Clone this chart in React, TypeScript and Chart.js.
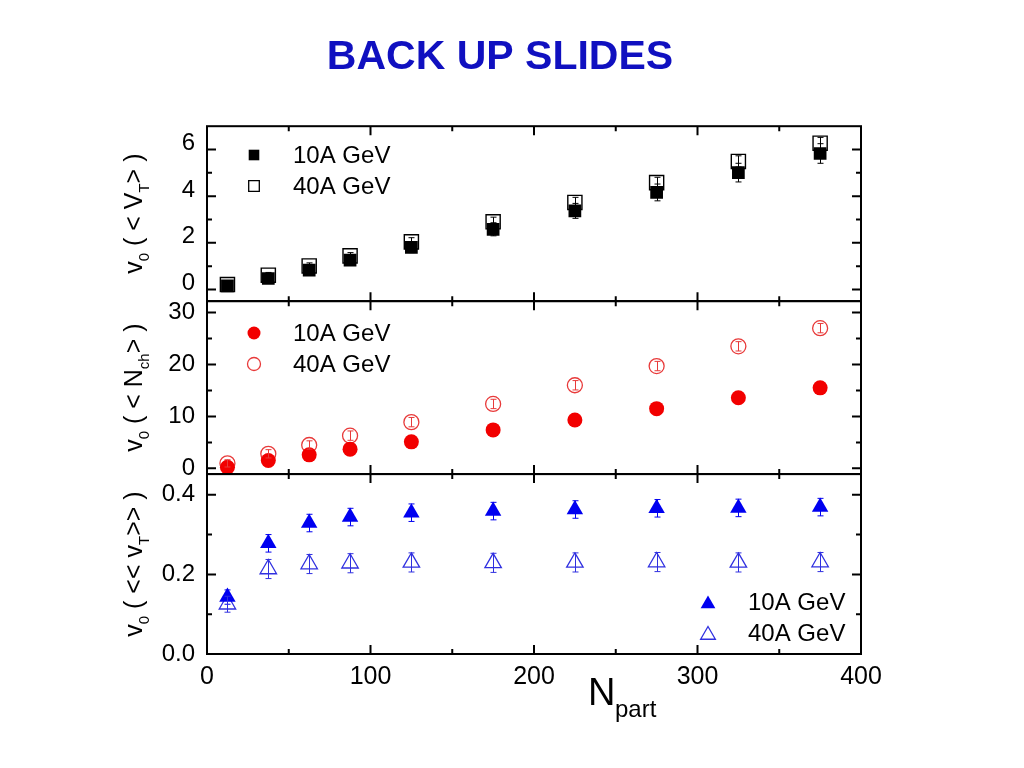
import React, { useEffect, useRef } from "react";
import { Chart, registerables } from "chart.js";

Chart.register(...registerables);

const FONT = "'Liberation Sans', Arial, Helvetica, sans-serif";

// ---- data ----
const NPART = [12.5, 37.5, 62.5, 87.5, 125, 175, 225, 275, 325, 375];

const VT_10A = [0.15, 0.47, 0.83, 1.26, 1.8, 2.58, 3.37, 4.16, 5.01, 5.83];
const VT_40A = [0.21, 0.61, 1.01, 1.44, 2.04, 2.9, 3.73, 4.58, 5.49, 6.27];
const VT_ERR_10A = [0.1, 0.12, 0.15, 0.18, 0.22, 0.28, 0.32, 0.36, 0.4, 0.42];
const VT_ERR_40A = [0.12, 0.12, 0.13, 0.14, 0.18, 0.2, 0.22, 0.23, 0.24, 0.25];

const NCH_10A = [0.2, 1.5, 2.6, 3.7, 5.1, 7.4, 9.3, 11.5, 13.6, 15.5];
const NCH_40A = [0.96, 2.8, 4.5, 6.3, 8.9, 12.4, 16.0, 19.7, 23.5, 27.0];
const NCH_ERR_10A = [0.4, 0.5, 0.5, 0.6, 0.6, 0.7, 0.7, 0.8, 0.8, 0.9];
const NCH_ERR_40A = [0.7, 0.8, 0.8, 0.9, 0.9, 0.9, 0.9, 0.9, 0.9, 0.9];

const MVT_10A = [0.143, 0.278, 0.329, 0.344, 0.355, 0.359, 0.363, 0.366, 0.367, 0.369];
const MVT_40A = [0.125, 0.2135, 0.226, 0.228, 0.23, 0.229, 0.23, 0.231, 0.23, 0.231];
const MVT_ERR_10A = [0.018, 0.022, 0.022, 0.022, 0.022, 0.022, 0.022, 0.022, 0.022, 0.022];
const MVT_ERR_40A = [0.02, 0.024, 0.024, 0.024, 0.024, 0.024, 0.024, 0.024, 0.024, 0.024];

const SERIES_LABELS = ["10A GeV", "40A GeV"];

const X_TICKS = [0, 100, 200, 300, 400];
const X_MINOR = [50, 150, 250, 350];
const VT_TICKS = [0, 2, 4, 6];
const VT_MINOR = [1, 3, 5];
const NCH_TICKS = [0, 10, 20, 30];
const NCH_MINOR = [5, 15, 25];
const MVT_TICKS = [0, 0.2, 0.4];
const MVT_MINOR = [0.1, 0.3];

const TITLE = "BACK UP SLIDES";

// rich text parts: [text, isSubscript]
const Y_TITLES: Array<Array<[string, boolean]>> = [
  [["v", false], ["0", true], [" ( < V", false], ["T", true], ["> )", false]],
  [["v", false], ["0", true], [" ( < N", false], ["ch", true], ["> )", false]],
  [["v", false], ["0", true], [" ( << v", false], ["T", true], [">> )", false]],
];

const BLACK = "#000000";
const RED = "#f20000";
const RED_OPEN = "#e83a3a";
const BLUE = "#0000f0";
const BLUE_OPEN = "#3030e0";

const pts = (xs: number[], ys: number[]) => xs.map((x, i) => ({ x, y: ys[i] }));

const ERRORS = [VT_ERR_10A, VT_ERR_40A, NCH_ERR_10A, NCH_ERR_40A, MVT_ERR_10A, MVT_ERR_40A];
const ERR_COLORS = [BLACK, BLACK, RED, RED_OPEN, BLUE, BLUE_OPEN];

const PANELS = [
  { id: "yTop", ticks: VT_TICKS, minor: VT_MINOR },
  { id: "yMid", ticks: NCH_TICKS, minor: NCH_MINOR },
  { id: "yBot", ticks: MVT_TICKS, minor: MVT_MINOR },
];

function drawRich(ctx: CanvasRenderingContext2D, parts: Array<[string, boolean]>, cx: number, cy: number, size: number, subSize: number, subOff: number) {
  ctx.save();
  ctx.translate(cx, cy);
  ctx.rotate(-Math.PI / 2);
  ctx.textBaseline = "alphabetic";
  ctx.textAlign = "left";
  let total = 0;
  const widths = parts.map(([t, sub]) => {
    ctx.font = `${sub ? subSize : size}px ${FONT}`;
    const w = ctx.measureText(t).width;
    total += w;
    return w;
  });
  let u = -total / 2;
  parts.forEach(([t, sub], i) => {
    ctx.font = `${sub ? subSize : size}px ${FONT}`;
    ctx.fillText(t, u, sub ? subOff : 0);
    u += widths[i];
  });
  ctx.restore();
}

function marker(ctx: CanvasRenderingContext2D, kind: string, x: number, y: number, r: number, color: string, filled: boolean) {
  ctx.save();
  ctx.beginPath();
  if (kind === "rect") {
    const s = r * Math.SQRT1_2;
    ctx.rect(x - s, y - s, 2 * s, 2 * s);
  } else if (kind === "circle") {
    ctx.arc(x, y, r, 0, Math.PI * 2);
  } else {
    ctx.moveTo(x, y - r);
    ctx.lineTo(x + r * Math.sin((2 * Math.PI) / 3), y - r * Math.cos((2 * Math.PI) / 3));
    ctx.lineTo(x + r * Math.sin((4 * Math.PI) / 3), y - r * Math.cos((4 * Math.PI) / 3));
    ctx.closePath();
  }
  if (filled) {
    ctx.fillStyle = color;
    ctx.fill();
  } else {
    ctx.strokeStyle = color;
    ctx.lineWidth = 1.3;
    ctx.stroke();
  }
  ctx.restore();
}

const decorPlugin = {
  id: "decor",
  afterDatasetsDraw(chart: any) {
    const ctx: CanvasRenderingContext2D = chart.ctx;
    chart.data.datasets.forEach((ds: any, i: number) => {
      const meta = chart.getDatasetMeta(i);
      const ys = chart.scales[ds.yAxisID];
      const errs = ERRORS[i];
      ctx.save();
      ctx.strokeStyle = ERR_COLORS[i];
      ctx.lineWidth = 1;
      meta.data.forEach((el: any, j: number) => {
        const v = ds.data[j].y;
        const x = Math.round(el.x) + 0.5;
        const y1 = ys.getPixelForValue(v + errs[j]);
        const y2 = ys.getPixelForValue(v - errs[j]);
        ctx.beginPath();
        ctx.moveTo(x, y1);
        ctx.lineTo(x, y2);
        ctx.moveTo(x - 3, y1);
        ctx.lineTo(x + 3, y1);
        ctx.moveTo(x - 3, y2);
        ctx.lineTo(x + 3, y2);
        ctx.stroke();
      });
      ctx.restore();
    });
  },
  afterDraw(chart: any) {
    const ctx: CanvasRenderingContext2D = chart.ctx;
    const { left, right } = chart.chartArea;
    const xs = chart.scales.x;
    ctx.save();
    ctx.strokeStyle = BLACK;
    ctx.lineWidth = 2;
    PANELS.forEach((p, pi) => {
      const s = chart.scales[p.id];
      const top = s.top;
      const bottom = s.bottom;
      ctx.strokeRect(left, top, right - left, bottom - top);
      ctx.beginPath();
      const yt = (v: number, len: number) => {
        const y = s.getPixelForValue(v);
        ctx.moveTo(left, y);
        ctx.lineTo(left + len, y);
        ctx.moveTo(right, y);
        ctx.lineTo(right - len, y);
      };
      p.ticks.forEach((v) => yt(v, 9));
      p.minor.forEach((v) => yt(v, 5));
      const xt = (v: number, len: number) => {
        const x = xs.getPixelForValue(v);
        ctx.moveTo(x, top);
        ctx.lineTo(x, top + len);
        ctx.moveTo(x, bottom);
        ctx.lineTo(x, bottom - len);
      };
      X_TICKS.forEach((v) => xt(v, 9));
      X_MINOR.forEach((v) => xt(v, 5));
      ctx.stroke();
      // y title
      ctx.fillStyle = BLACK;
      drawRich(ctx, Y_TITLES[pi], 142, (top + bottom) / 2, 25, 15, 7);
    });
    ctx.restore();

    // legends
    ctx.save();
    ctx.font = `24px ${FONT}`;
    ctx.fillStyle = BLACK;
    ctx.textBaseline = "middle";
    ctx.textAlign = "left";
    const legends = [
      { kind: "rect", color: [BLACK, BLACK], r: 7.5, mx: 254, tx: 293, y: [155, 186] },
      { kind: "circle", color: [RED, RED_OPEN], r: 6.5, mx: 254, tx: 293, y: [333, 364] },
      { kind: "triangle", color: [BLUE, BLUE_OPEN], r: 8.5, mx: 708, tx: 748, y: [602, 633] },
    ];
    legends.forEach((lg) => {
      [0, 1].forEach((k) => {
        marker(ctx, lg.kind, lg.mx, lg.y[k] + (lg.kind === "triangle" ? 2 : 0), lg.r, lg.color[k], k === 0);
        ctx.fillText(SERIES_LABELS[k], lg.tx, lg.y[k] + 1);
      });
    });
    ctx.restore();

    // x title N_part
    ctx.save();
    ctx.fillStyle = BLACK;
    ctx.textBaseline = "alphabetic";
    ctx.textAlign = "left";
    ctx.font = `38px ${FONT}`;
    ctx.fillText("N", 588, 705);
    ctx.font = `24px ${FONT}`;
    ctx.fillText("part", 615, 717);
    ctx.restore();
  },
};

export default function App() {
  const ref = useRef<HTMLCanvasElement | null>(null);
  useEffect(() => {
    if (!ref.current) return;
    const setTicks = (arr: number[]) => (axis: any) => {
      axis.ticks = arr.map((v) => ({ value: v }));
    };
    const yBase = (min: number, max: number, arr: number[], weight: number, sw: number, extra: any = {}) => ({
      type: "linear",
      position: "left",
      stack: "panels",
      stackWeight: sw,
      weight,
      min,
      max,
      afterBuildTicks: setTicks(arr),
      afterFit: (s: any) => {
        s.width = 68;
      },
      grid: { display: false, drawTicks: false },
      border: { display: false },
      ticks: {
        color: BLACK,
        padding: 12,
        font: { family: FONT, size: 24 },
        ...extra,
      },
    });
    const chart = new Chart(ref.current, {
      type: "scatter",
      data: {
        datasets: [
          {
            label: SERIES_LABELS[0],
            data: pts(NPART, VT_10A),
            yAxisID: "yTop",
            pointStyle: "rect",
            pointRadius: 9,
            pointBackgroundColor: BLACK,
            pointBorderColor: BLACK,
            pointBorderWidth: 0,
            backgroundColor: BLACK,
            borderColor: BLACK,
          },
          {
            label: SERIES_LABELS[1],
            data: pts(NPART, VT_40A),
            yAxisID: "yTop",
            pointStyle: "rect",
            pointRadius: 10,
            pointBackgroundColor: "rgba(0,0,0,0)",
            pointBorderColor: BLACK,
            pointBorderWidth: 1.4,
            backgroundColor: "rgba(0,0,0,0)",
            borderColor: BLACK,
          },
          {
            label: SERIES_LABELS[0],
            data: pts(NPART, NCH_10A),
            yAxisID: "yMid",
            pointStyle: "circle",
            pointRadius: 7.5,
            pointBackgroundColor: RED,
            pointBorderColor: RED,
            pointBorderWidth: 0,
            backgroundColor: RED,
            borderColor: RED,
          },
          {
            label: SERIES_LABELS[1],
            data: pts(NPART, NCH_40A),
            yAxisID: "yMid",
            pointStyle: "circle",
            pointRadius: 7.5,
            pointBackgroundColor: "rgba(0,0,0,0)",
            pointBorderColor: RED_OPEN,
            pointBorderWidth: 1.3,
            backgroundColor: "rgba(0,0,0,0)",
            borderColor: RED_OPEN,
          },
          {
            label: SERIES_LABELS[0],
            data: pts(NPART, MVT_10A),
            yAxisID: "yBot",
            pointStyle: "triangle",
            pointRadius: 9.5,
            pointBackgroundColor: BLUE,
            pointBorderColor: BLUE,
            pointBorderWidth: 0,
            backgroundColor: BLUE,
            borderColor: BLUE,
          },
          {
            label: SERIES_LABELS[1],
            data: pts(NPART, MVT_40A),
            yAxisID: "yBot",
            pointStyle: "triangle",
            pointRadius: 9.5,
            pointBackgroundColor: "rgba(0,0,0,0)",
            pointBorderColor: BLUE_OPEN,
            pointBorderWidth: 1.3,
            backgroundColor: "rgba(0,0,0,0)",
            borderColor: BLUE_OPEN,
          },
        ],
      },
      options: {
        responsive: false,
        animation: false,
        devicePixelRatio: 1,
        layout: { padding: { left: 139, right: 163, top: 0, bottom: 0 } },
        plugins: {
          legend: { display: false },
          tooltip: { enabled: false },
          title: {
            display: true,
            text: TITLE,
            color: "#1010c0",
            font: { family: FONT, size: 41, weight: "bold", lineHeight: 1.2 },
            padding: { top: 33, bottom: 44 },
          },
        },
        scales: {
          x: {
            type: "linear",
            position: "bottom",
            min: 0,
            max: 400,
            afterBuildTicks: setTicks(X_TICKS),
            afterFit: (s: any) => {
              s.height = 114;
            },
            grid: { display: false, drawTicks: false },
            border: { display: false },
            ticks: { color: BLACK, padding: 8, maxRotation: 0, font: { family: FONT, size: 25 } },
          },
          yTop: yBase(-0.5, 7, VT_TICKS, 3, 175, { labelOffset: -6 }),
          yMid: yBase(-1.1, 32.2, NCH_TICKS, 2, 173),
          yBot: yBase(0, 0.452, MVT_TICKS, 1, 180, { callback: (v: any) => Number(v).toFixed(1) }),
        } as any,
      } as any,
      plugins: [decorPlugin],
    });
    return () => chart.destroy();
  }, []);
  return (
    <div style={{ position: "absolute", left: 0, top: 0, width: 1024, height: 768, background: "#ffffff" }}>
      <canvas ref={ref} width={1024} height={768} style={{ width: 1024, height: 768, display: "block" }} />
    </div>
  );
}
